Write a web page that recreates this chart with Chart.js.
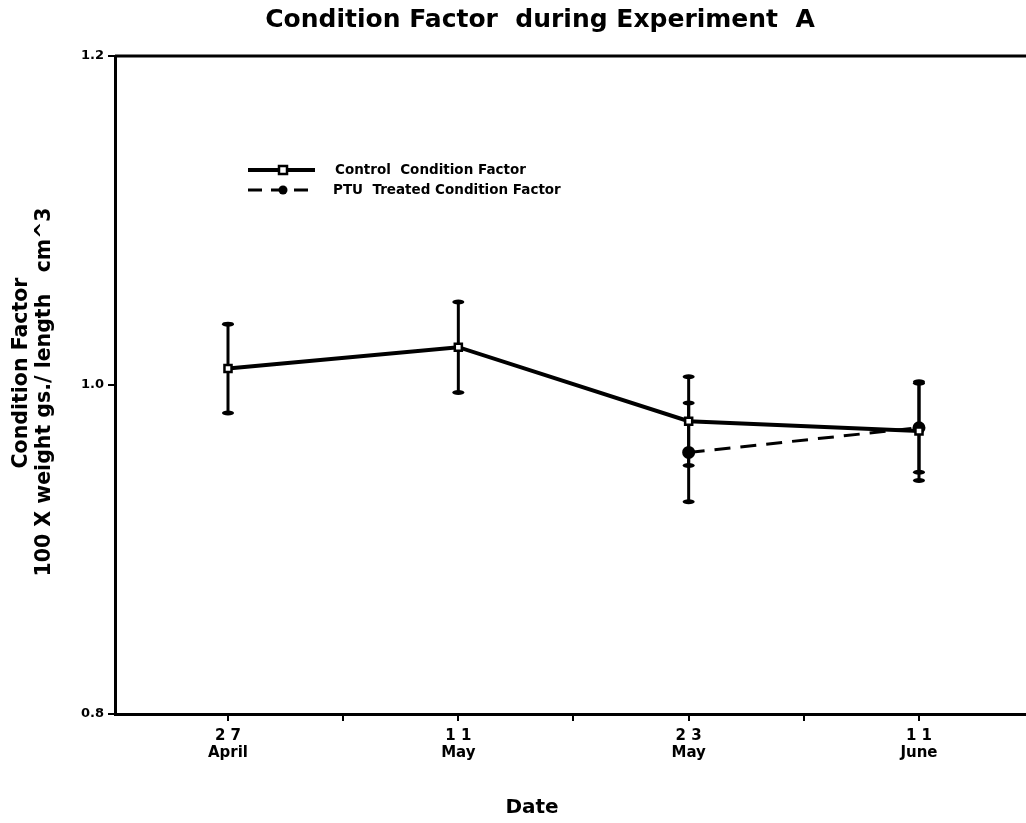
<!DOCTYPE html>
<html>
<head>
<meta charset="utf-8">
<title>Condition Factor during Experiment A</title>
<script src="https://cdn.jsdelivr.net/npm/chart.js@4.4.1/dist/chart.umd.min.js"></script>
<style>
  html, body { margin: 0; padding: 0; background: #fff; }
  #wrap { width: 1026px; height: 823px; position: relative; }
</style>
</head>
<body>
<div id="wrap"><canvas id="cfChart"></canvas></div>
<script>
// sampling dates (evenly spaced along the axis) and condition factor means / error
const dates      = [['2 7', 'April'], ['1 1', 'May'], ['2 3', 'May'], ['1 1', 'June']];
const controlCF  = [1.010, 1.023, 0.978, 0.972];
const controlErr = [0.027, 0.0275, 0.027, 0.030];
const ptuCF      = [null, null, 0.959, 0.974];
const ptuErr     = [null, null, 0.030, 0.027];
const yTicks     = [0.8, 1.0, 1.2];
const xTicks     = [0, 0.5, 1, 1.5, 2, 2.5, 3];

const FONT = 'DejaVu Sans';
Chart.defaults.font.family = FONT;
Chart.defaults.font.weight = 'bold';
Chart.defaults.color = '#000';

const toPts = arr => arr.map((v, i) => ({ x: i, y: v }));

// error bars, frame line, legend and titles
const extras = {
  id: 'extras',
  beforeDatasetsDraw(chart) {
    const { ctx, scales: { x, y } } = chart;
    const bars = [[controlCF, controlErr], [ptuCF, ptuErr]];
    ctx.save();
    ctx.strokeStyle = '#000';
    ctx.fillStyle = '#000';
    ctx.lineWidth = 3;
    bars.forEach(([vals, errs]) => {
      vals.forEach((v, i) => {
        if (v == null) return;
        const px = x.getPixelForValue(i);
        const top = y.getPixelForValue(v + errs[i]);
        const bot = y.getPixelForValue(v - errs[i]);
        ctx.beginPath();
        ctx.moveTo(px, top);
        ctx.lineTo(px, bot);
        ctx.stroke();
        [top, bot].forEach(cy => {
          ctx.beginPath();
          ctx.ellipse(px, cy, 6, 2.5, 0, 0, Math.PI * 2);
          ctx.fill();
        });
      });
    });
    ctx.restore();
  },
  afterDraw(chart) {
    const { ctx, chartArea: a } = chart;
    ctx.save();
    ctx.strokeStyle = '#000';
    ctx.fillStyle = '#000';

    // top frame line
    ctx.lineWidth = 3;
    ctx.beginPath();
    ctx.moveTo(a.left, a.top);
    ctx.lineTo(a.right, a.top);
    ctx.stroke();

    // legend
    const lx = a.left + 133, ly = a.top + 114;
    ctx.lineWidth = 4;
    ctx.setLineDash([]);
    ctx.beginPath();
    ctx.moveTo(lx, ly);
    ctx.lineTo(lx + 67, ly);
    ctx.stroke();
    ctx.fillStyle = '#fff';
    ctx.lineWidth = 2.5;
    ctx.fillRect(lx + 31, ly - 4, 8, 8);
    ctx.strokeRect(lx + 31, ly - 4, 8, 8);

    ctx.lineWidth = 3;
    ctx.setLineDash([14, 9]);
    ctx.beginPath();
    ctx.moveTo(lx, ly + 20);
    ctx.lineTo(lx + 67, ly + 20);
    ctx.stroke();
    ctx.setLineDash([]);
    ctx.fillStyle = '#000';
    ctx.beginPath();
    ctx.arc(lx + 35, ly + 20, 4.5, 0, Math.PI * 2);
    ctx.fill();

    ctx.font = 'bold 13.5px ' + FONT;
    ctx.textBaseline = 'middle';
    ctx.textAlign = 'left';
    ctx.fillText('Control  Condition Factor', lx + 87, ly);
    ctx.fillText('PTU  Treated Condition Factor', lx + 85, ly + 20);

    // chart title
    ctx.font = 'bold 25px ' + FONT;
    ctx.textAlign = 'center';
    ctx.textBaseline = 'middle';
    ctx.fillText('Condition Factor  during Experiment  A', 540, 20);

    // x axis title
    ctx.font = 'bold 20px ' + FONT;
    ctx.fillText('Date', 532, 808);

    // y axis title, two rotated lines
    ctx.font = 'bold 20.5px ' + FONT;
    ctx.save();
    ctx.translate(22, 373);
    ctx.rotate(-Math.PI / 2);
    ctx.fillText('Condition Factor', 0, 0);
    ctx.restore();
    ctx.save();
    ctx.translate(45, 392);
    ctx.rotate(-Math.PI / 2);
    ctx.fillText('100 X weight gs./ length   cm^3', 0, 0);
    ctx.restore();

    ctx.restore();
  }
};

new Chart(document.getElementById('cfChart'), {
  type: 'line',
  data: {
    datasets: [
      {
        label: 'Control Condition Factor',
        data: toPts(controlCF),
        borderColor: '#000',
        borderWidth: 4,
        pointStyle: 'rect',
        pointRadius: 5,
        pointBorderWidth: 2.5,
        pointBackgroundColor: '#fff',
        pointBorderColor: '#000',
        tension: 0
      },
      {
        label: 'PTU Treated Condition Factor',
        data: toPts(ptuCF),
        borderColor: '#000',
        borderWidth: 3,
        borderDash: [16, 10],
        pointStyle: 'circle',
        pointRadius: 5,
        pointBackgroundColor: '#000',
        pointBorderColor: '#000',
        spanGaps: false,
        tension: 0
      }
    ]
  },
  options: {
    responsive: true,
    maintainAspectRatio: false,
    animation: false,
    layout: { autoPadding: false, padding: { top: 56, right: 0, bottom: 0, left: 0 } },
    plugins: {
      legend: { display: false },
      tooltip: { enabled: false }
    },
    scales: {
      x: {
        type: 'linear',
        min: -0.4906,
        max: 3.4646,
        afterBuildTicks: s => { s.ticks = xTicks.map(v => ({ value: v })); },
        afterFit: s => { s.height = 109; s.paddingLeft = 0; s.paddingRight = 0; },
        ticks: {
          autoSkip: false,
          maxRotation: 0,
          padding: 7,
          font: { size: 15, weight: 'bold', lineHeight: 1.1 },
          callback: v => Number.isInteger(v) ? dates[v] : ''
        },
        grid: { drawOnChartArea: false, drawTicks: true, tickLength: 7, color: '#000', lineWidth: 2 },
        border: { display: true, color: '#000', width: 3 }
      },
      y: {
        min: 0.8,
        max: 1.2,
        afterBuildTicks: s => { s.ticks = yTicks.map(v => ({ value: v })); },
        afterFit: s => { s.width = 115; },
        ticks: {
          padding: 4,
          font: { size: 13, weight: 'bold' },
          callback: v => v.toFixed(1)
        },
        grid: { drawOnChartArea: false, drawTicks: true, tickLength: 7, color: '#000', lineWidth: 2 },
        border: { display: true, color: '#000', width: 3 }
      }
    }
  },
  plugins: [extras]
});
</script>
</body>
</html>
